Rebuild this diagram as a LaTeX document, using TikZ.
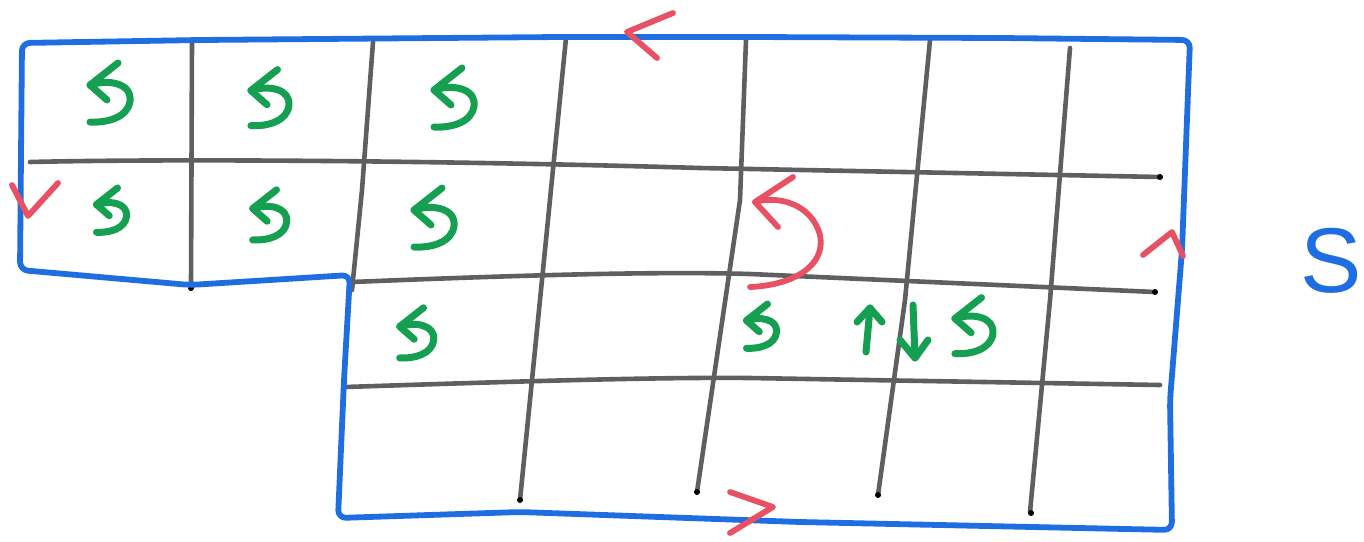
\documentclass[tikz,border=0pt]{standalone}
\usepackage{fontspec}
\setsansfont{Liberation Sans}
\definecolor{bl}{RGB}{30,110,225}
\definecolor{gr}{RGB}{95,95,95}
\definecolor{gn}{RGB}{20,160,80}
\definecolor{rd}{RGB}{232,80,100}
\tikzset{
  border/.style={draw=bl,line width=2.9pt,line join=round,line cap=round,rounded corners=4pt},
  gridl/.style={draw=gr,line width=2.3pt,line cap=round},
  grn/.style={draw=gn,line width=3.5pt,line cap=round,line join=round},
  red/.style={draw=rd,line width=2.9pt,line cap=round,line join=round},
  ccw/.pic={
    \draw[grn] (10,-32) -- (-18,-10) -- (-1,5);
    \draw[grn] (-18,-10) .. controls (0,-16) and (24,-12) .. (22,6) .. controls (20,22) and (0,28) .. (-18,27);
  }
}
\begin{document}
\begin{tikzpicture}[x=0.5pt,y=-0.5pt]
\useasboundingbox (0,0) rectangle (1364,541);
% grid lines
\draw[gridl] (30,162) .. controls (200,158) and (500,162) .. (700,168) -- (1160,177);
\draw[gridl] (352,282) .. controls (500,276) and (650,271) .. (750,274) -- (1155,292);
\draw[gridl] (345,387) .. controls (500,382) and (650,377) .. (750,378) -- (1160,385);
\draw[gridl] (192,42) -- (191,286);
\draw[gridl] (373,42) -- (362,190) -- (352,290);
\draw[gridl] (566,38) -- (545,250) -- (520,500);
\draw[gridl] (746,40) -- (740,200) -- (697,492);
\draw[gridl] (930,40) -- (905,300) -- (878,495);
\draw[gridl] (1070,48) -- (1050,300) -- (1030,512);
\foreach \p in {(191,288),(1160,177),(1155,292),(520,500),(697,492),(878,495),(1031,513)}
  \fill \p circle (3);
% border
\draw[border] (22,43) -- (200,40) -- (560,37) -- (750,37) -- (1000,38) -- (1190,40)
  -- (1182,250) -- (1170,400) -- (1172,530) -- (800,522) -- (520,512) -- (338,518)
  -- (344,380) -- (350,275) -- (190,285) -- (20,270) -- cycle;
% green circular arrows
\pic at (108,95) {ccw};
\pic[scale=0.95] at (268,100) {ccw};
\pic at (452,100) {ccw};
\pic[scale=0.75] at (110,212) {ccw};
\pic[scale=0.85] at (268,217) {ccw};
\pic at (432,220) {ccw};
\pic[scale=0.85] at (415,335) {ccw};
\pic[scale=0.75] at (760,328) {ccw};
\pic[scale=0.95] at (972,328) {ccw};
% up and down arrows
\draw[grn] (866,352) -- (870,308);
\draw[grn] (857,322) -- (870,308) -- (882,322);
\draw[grn] (913,305) -- (915,358);
\draw[grn] (900,340) -- (915,358) -- (928,340);
% red arrow
\draw[red] (793,177) -- (755,202) -- (778,227);
\draw[red] (755,202) .. controls (780,195) and (812,205) .. (820,235) .. controls (826,265) and (795,285) .. (750,287);
% red ticks on border
\draw[red] (673,13) -- (627,32) -- (657,58);
\draw[red] (12,185) -- (28,216) -- (58,183);
\draw[red] (730,492) -- (773,507) -- (730,533);
\draw[red] (1143,255) -- (1172,232) -- (1183,256);
% S
\node[text=bl,font=\sffamily\fontsize{46}{46}\selectfont,inner sep=0pt] (s) at (1331,261) {S};
\end{tikzpicture}
\end{document}
